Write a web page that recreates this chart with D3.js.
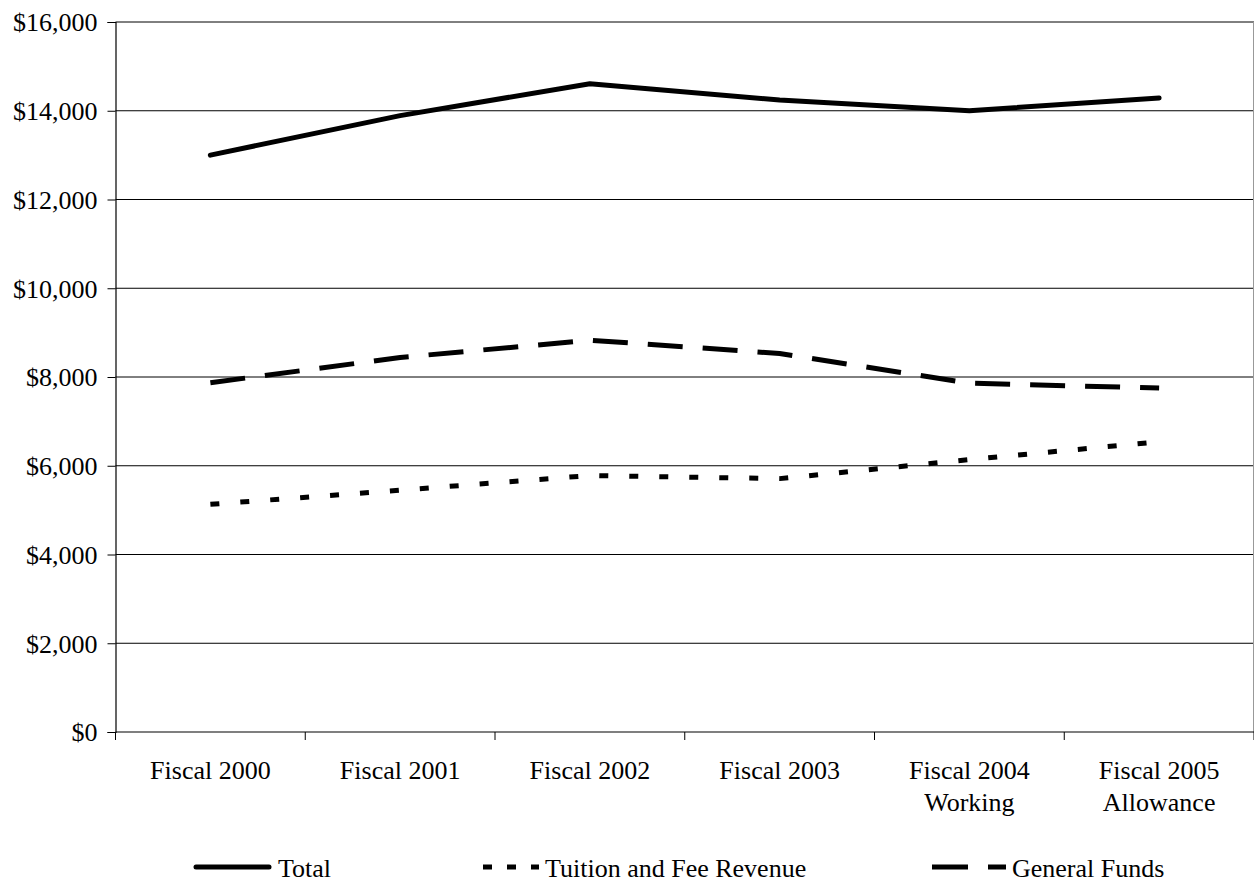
<!DOCTYPE html>
<html>
<head>
<meta charset="utf-8">
<script src="https://cdn.jsdelivr.net/npm/d3@7"></script>
<style>
  html, body { margin: 0; padding: 0; background: #fff; }
  svg { display: block; }
  text { font-family: "Liberation Serif", "Times New Roman", serif; fill: #000; }
</style>
</head>
<body>
<svg id="chart" width="1254" height="884"></svg>
<script>
// Per-student revenue by fiscal year (dollars)
const categories = [
  ["Fiscal 2000"],
  ["Fiscal 2001"],
  ["Fiscal 2002"],
  ["Fiscal 2003"],
  ["Fiscal 2004", "Working"],
  ["Fiscal 2005", "Allowance"]
];
const totalValues   = [13000, 13890, 14610, 14240, 14000, 14290];
const tuitionValues = [5130, 5450, 5780, 5710, 6140, 6540];
const generalValues = [7870, 8440, 8830, 8530, 7860, 7750];
const yTicks = [0, 2000, 4000, 6000, 8000, 10000, 12000, 14000, 16000];

const seriesList = [
  { name: "Total", values: totalValues, dash: null, cap: "round" },
  { name: "Tuition and Fee Revenue", values: tuitionValues, dash: "9,21", cap: "butt" },
  { name: "General Funds", values: generalValues, dash: "35,20", cap: "butt" }
];

const svg = d3.select("#chart");
const plotLeft = 115.5, plotRight = 1254, plotTop = 22, plotBottom = 732;

const keys = categories.map((c, i) => i);
const x = d3.scaleBand().domain(keys).range([plotLeft, plotRight]);
const y = d3.scaleLinear().domain([0, 16000]).range([plotBottom, plotTop]);

// horizontal gridlines
svg.append("g")
  .selectAll("line")
  .data(yTicks.filter(v => v > 0))
  .join("line")
  .attr("x1", plotLeft).attr("x2", plotRight)
  .attr("y1", d => y(d)).attr("y2", d => y(d))
  .attr("stroke", "#000").attr("stroke-width", 1);

// faint right border of the plot area
svg.append("line")
  .attr("x1", plotRight - 0.5).attr("x2", plotRight - 0.5)
  .attr("y1", plotTop).attr("y2", plotBottom)
  .attr("stroke", "#999").attr("stroke-width", 1);

// y axis
const yAxis = d3.axisLeft(y)
  .tickValues(yTicks)
  .tickSize(8)
  .tickPadding(10)
  .tickFormat(d => "$" + d3.format(",")(d));
const gy = svg.append("g").attr("transform", `translate(${plotLeft},0)`).call(yAxis);
gy.select(".domain").attr("stroke", "#000").attr("stroke-width", 1.2);
gy.selectAll(".tick line").attr("stroke", "#000");
gy.selectAll(".tick text")
  .attr("font-size", 26)
  .attr("font-family", "Liberation Serif, Times New Roman, serif")
  .attr("dy", "0.34em");

// x axis line and tick marks at category boundaries
svg.append("line")
  .attr("x1", plotLeft).attr("x2", plotRight)
  .attr("y1", plotBottom).attr("y2", plotBottom)
  .attr("stroke", "#000").attr("stroke-width", 1.2);
const boundaries = keys.map(k => x(k)).concat([plotRight]);
svg.append("g")
  .selectAll("line")
  .data(boundaries)
  .join("line")
  .attr("x1", d => d).attr("x2", d => d)
  .attr("y1", plotBottom).attr("y2", plotBottom + 8)
  .attr("stroke", "#000").attr("stroke-width", 1);

// category labels
const xl = svg.append("g")
  .selectAll("text")
  .data(categories)
  .join("text")
  .attr("text-anchor", "middle")
  .attr("font-size", 26)
  .attr("transform", (d, i) => `translate(${x(i) + x.bandwidth() / 2},${plotBottom + 47})`);
xl.selectAll("tspan")
  .data(d => d)
  .join("tspan")
  .attr("x", 0)
  .attr("y", (d, j) => j * 32)
  .text(d => d);

// series lines
const line = d3.line()
  .x((d, i) => x(i) + x.bandwidth() / 2)
  .y(d => y(d));

svg.append("g")
  .selectAll("path")
  .data(seriesList)
  .join("path")
  .attr("d", s => line(s.values))
  .attr("fill", "none")
  .attr("stroke", "#000")
  .attr("stroke-width", 5)
  .attr("stroke-linecap", s => s.cap)
  .attr("stroke-linejoin", "round")
  .attr("stroke-dasharray", s => s.dash);

// legend
const legendY = 867;
const legendTextX = [278, 545, 1012];
const legend = svg.append("g")
  .selectAll("g")
  .data(seriesList)
  .join("g")
  .attr("transform", (d, i) => `translate(${legendTextX[i]},${legendY})`);
legend.append("line")
  .attr("x1", (d, i) => i === 0 ? -82 : (i === 1 ? -62 : -80))
  .attr("x2", (d, i) => i === 0 ? -9 : -6)
  .attr("y1", 0).attr("y2", 0)
  .attr("stroke", "#000")
  .attr("stroke-width", 5)
  .attr("stroke-linecap", d => d.cap)
  .attr("stroke-dasharray", (d, i) => i === 1 ? "9,15" : (i === 2 ? "36,20" : null));
legend.append("text")
  .attr("x", 0)
  .attr("y", 10)
  .attr("font-size", 26)
  .text(d => d.name);
</script>
</body>
</html>
